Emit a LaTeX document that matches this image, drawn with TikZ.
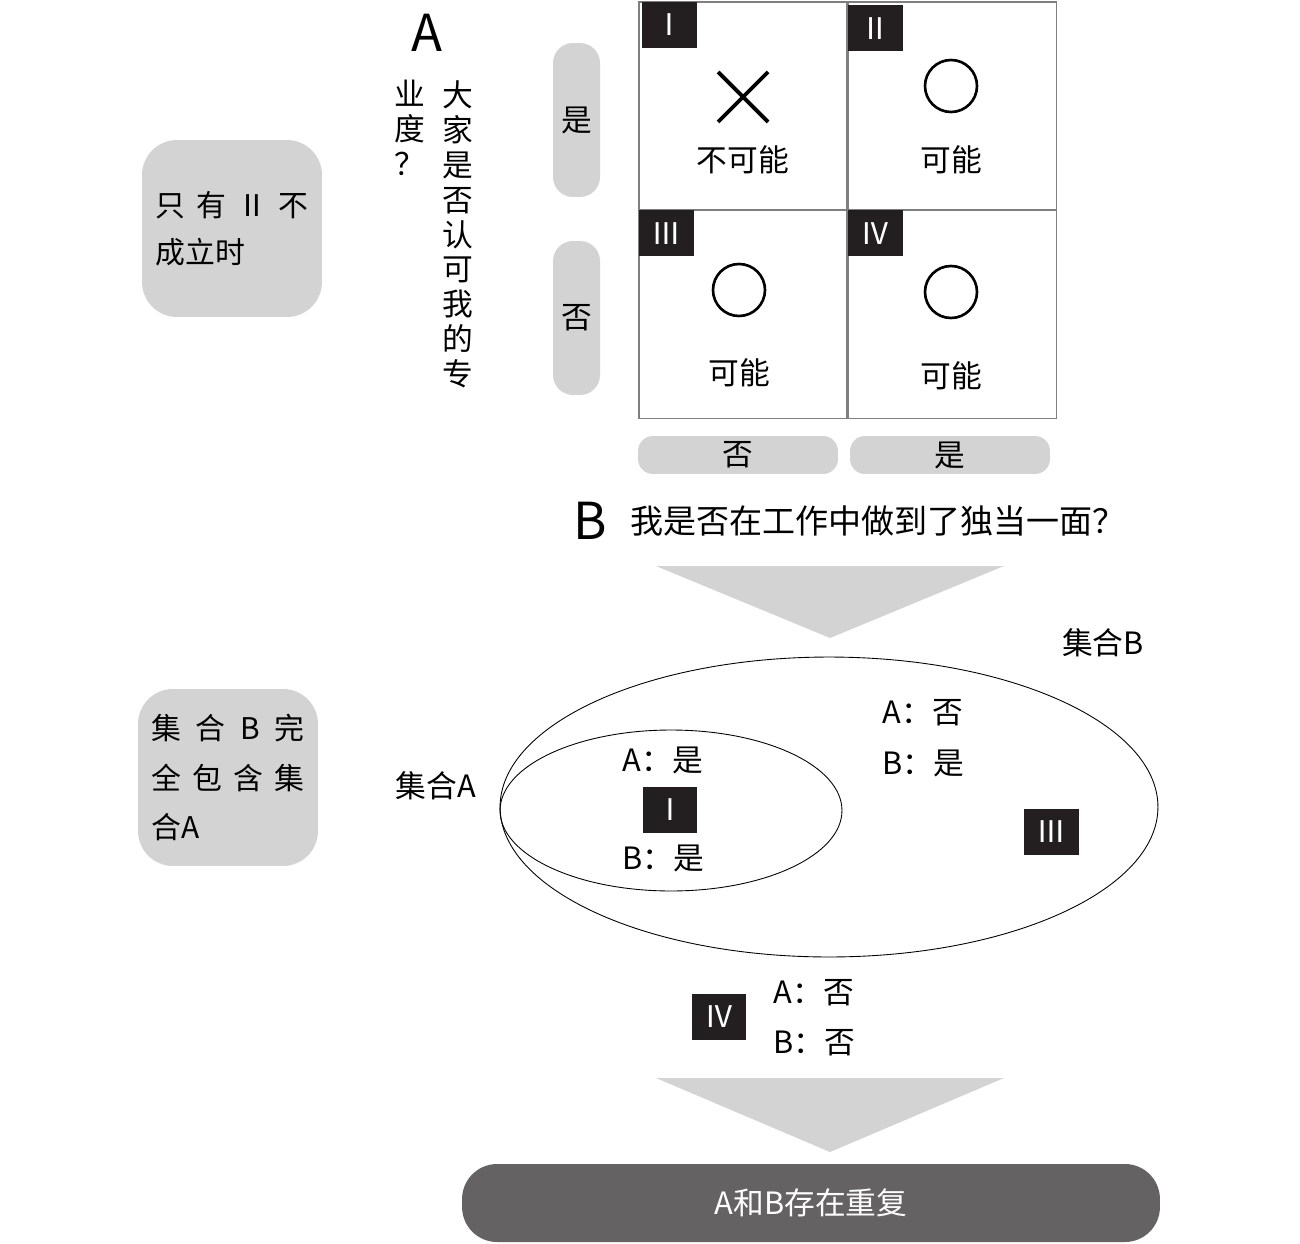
\documentclass[tikz,border=0pt]{standalone}
\usepackage{fontspec}
\setmainfont{Noto Sans CJK SC}
\usetikzlibrary{positioning,shapes.geometric}
\definecolor{pill}{HTML}{D3D3D3}
\definecolor{badge}{HTML}{231F20}
\definecolor{bar}{HTML}{656263}
\definecolor{frame}{HTML}{7F7F7F}
\tikzset{
  txt/.style={inner sep=0pt, font=\fontsize{17.5}{20}\selectfont},
  big/.style={inner sep=0pt, font=\fontsize{29}{32}\selectfont},
  cell/.style={draw=frame, line width=0.8pt, minimum width=4.16cm,
    minimum height=4.16cm, inner sep=0pt},
  badgebox/.style={fill=badge, text=white, minimum width=1.1cm,
    minimum height=0.92cm, inner sep=0pt, font=\fontsize{17}{20}\selectfont},
  ring/.style={draw, circle, line width=1.5pt, minimum size=1.04cm, inner sep=0pt},
  pillv/.style={fill=pill, rounded corners=0.4cm, minimum width=0.94cm,
    minimum height=3.08cm, inner sep=0pt, font=\fontsize{17.5}{20}\selectfont},
  pillh/.style={fill=pill, rounded corners=0.3cm, minimum width=4cm,
    minimum height=0.76cm, inner sep=0pt, font=\fontsize{17.5}{20}\selectfont},
  note/.style 2 args={fill=pill, rounded corners=0.7cm, minimum width=3.6cm,
    minimum height=3.54cm, text width=3.06cm, align=left,
    font=\fontsize{17}{#1}\selectfont, inner sep=0pt, #2},
  column/.style={anchor=north, align=center, inner sep=0pt,
    font=\fontsize{17.5}{19.9}\selectfont},
  setring/.style={draw, ellipse, line width=0.5pt, inner sep=0pt}
}

\begin{document}
\begin{tikzpicture}[>=latex, x=0.02cm, y=-0.02cm]
\useasboundingbox (0,0) rectangle (1300,1243);

% question A
\node[big] (qa) at (427,33) {A};
\node[column] (qa1) at (458,80) {大\\家\\是\\否\\认\\可\\我\\的\\专};
\node[column] (qa2) at (410,80) {业\\度\\？};

\node[pillv] (ayes) at (576.5,120) {是};
\node[pillv] (ano) at (576.5,318) {否};

% the four cells
\node[cell] (c1) at (743,106) {};
\node[cell] (c2) at (952.5,106) {};
\node[cell] (c3) at (743,314.5) {};
\node[cell] (c4) at (952.5,314.5) {};

\node[badgebox, anchor=north west] (b1) at ([xshift=2pt]c1.north west) {Ⅰ};
\node[badgebox, anchor=north west] (b2) at ([yshift=-2pt]c2.north west) {Ⅱ};
\node[badgebox, anchor=north west] (b3) at (c3.north west) {Ⅲ};
\node[badgebox, anchor=north west] (b4) at (c4.north west) {Ⅳ};

\begin{scope}
\coordinate (x1) at (718,72);
\coordinate (x2) at (768,122);
\coordinate (x3) at (718,122);
\coordinate (x4) at (768,72);
\draw[line width=2.2pt] (x1) -- (x2);
\draw[line width=2.2pt] (x3) -- (x4);
\node[txt] (t1) at (743,160) {不可能};
\end{scope}

\node[ring] (r2) at (951,86) {};
\node[txt] (t2) at (951,160) {可能};
\node[ring] (r3) at (739,290) {};
\node[txt] (t3) at (739,373) {可能};
\node[ring] (r4) at (951,292) {};
\node[txt] (t4) at (951,376) {可能};

\node[pillh] (bno) at (738,455) {否};
\node[pillh] (byes) at (950,455) {是};

% question B
\node[big] (qb) at (590,521) {B};
\node[txt, anchor=west, font=\fontsize{18.8}{20}\selectfont] (qb1) at (630,521)
  {我是否在工作中做到了独当一面？};

\begin{scope}
\coordinate (p1) at (656,566);
\coordinate (p2) at (1004,566);
\coordinate (p3) at (830,638);
\fill[pill] (p1) -- (p2) -- (p3) -- cycle;
\end{scope}

% the two sets
\node[setring, minimum width=13.16cm, minimum height=6cm] (setB) at (829,807) {};
\node[setring, minimum width=6.84cm, minimum height=3.22cm] (setA) at (671,810.5) {};
\node[txt] (lb) at (1103,643) {集合B};
\node[txt] (la) at (436,786) {集合A};

\node[txt] (ia) at (663,760) {A：是};
\node[badgebox, minimum width=1.08cm] (i1) at (670,810) {Ⅰ};
\node[txt] (ib) at (663,858) {B：是};

\node[txt] (iia) at (923,713) {A：否};
\node[txt] (iib) at (923,763) {B：是};
\node[badgebox] (i3) at (1051,831.5) {Ⅲ};

\node[badgebox, minimum width=1.08cm] (i4) at (719,1016.5) {Ⅳ};
\node[txt] (iva) at (814,993) {A：否};
\node[txt] (ivb) at (814,1043) {B：否};

\begin{scope}
\coordinate (p1) at (656,1078);
\coordinate (p2) at (1004,1078);
\coordinate (p3) at (830,1152);
\fill[pill] (p1) -- (p2) -- (p3) -- cycle;
\end{scope}

\node[fill=bar, rounded corners=0.7cm, minimum width=13.96cm, minimum height=1.56cm,
  text=white, font=\fontsize{17.5}{20}\selectfont] (res) at (811,1203) {A和B存在重复};

% side notes
\node[note={27}{}] (n1) at (232,228.5) {只\hfill 有\hfill Ⅱ\hfill 不\\成立时};
\node[note={28}{}] (n2) at (228,777.5) {集\hfill 合\hfill B\hfill 完\\全\hfill 包\hfill 含\hfill 集\\合A};
\end{tikzpicture}
\end{document}
